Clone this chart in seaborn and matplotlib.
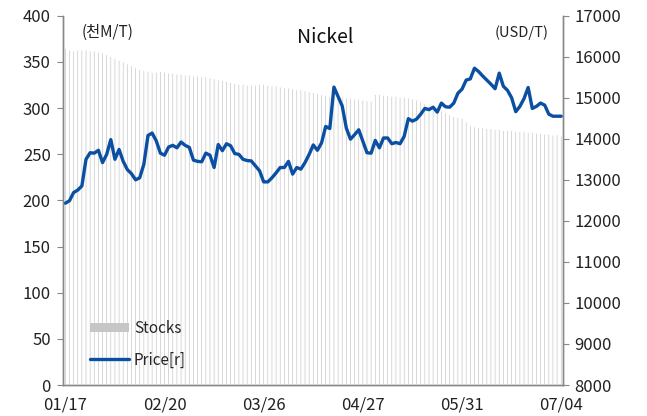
import matplotlib
matplotlib.use('Agg')
import matplotlib.pyplot as plt
from matplotlib.patches import Patch
from matplotlib.lines import Line2D
import seaborn as sns
import pandas as pd

# LME nickel, business days 2018-01-17 .. 2018-07-04
dates = pd.bdate_range('2018-01-17', '2018-07-04')
tick_labels = ['01/17', '02/20', '03/26', '04/27', '05/31', '07/04']

stocks = [365, 363, 362, 363, 363, 363, 362, 362, 361, 360,
          358, 356, 354, 352, 350, 348, 346, 344, 342, 341,
          340, 339, 339, 340, 339, 338, 338, 337, 337, 336,
          336, 335, 335, 334, 334, 333, 332, 331, 330, 329,
          328, 327, 326, 326, 325, 325, 325, 326, 326, 325,
          324, 324, 323, 322, 322, 321, 320, 320, 319, 318,
          317, 316, 315, 314, 313, 313, 312, 312, 311, 311,
          310, 310, 309, 308, 308, 315, 315, 314, 314, 313,
          313, 312, 312, 311, 310, 309, 307, 305, 303, 301,
          299, 297, 295, 293, 291, 290, 289, 285, 281, 280,
          279, 279, 278, 278, 277, 277, 276, 276, 276, 275,
          275, 275, 274, 274, 273, 273, 272, 272, 271, 271, 270]

price = [12430, 12490, 12690, 12750, 12850, 13500, 13660, 13650, 13720, 13420,
         13620, 13980, 13500, 13740, 13450, 13250, 13150, 13000, 13050, 13380,
         14080, 14140, 13950, 13650, 13600, 13800, 13840, 13780, 13920, 13840,
         13790, 13480, 13450, 13440, 13650, 13600, 13300, 13860, 13710, 13880,
         13830, 13640, 13620, 13500, 13470, 13460, 13340, 13220, 12950, 12950,
         13050, 13170, 13300, 13300, 13450, 13140, 13300, 13260, 13420, 13620,
         13850, 13720, 13900, 14300, 14250, 15260, 15030, 14800, 14260, 13990,
         14100, 14220, 13940, 13660, 13650, 13960, 13780, 14020, 14020, 13880,
         13910, 13880, 14060, 14490, 14430, 14480, 14600, 14740, 14710, 14770,
         14650, 14870, 14780, 14770, 14870, 15110, 15210, 15430, 15460, 15720,
         15640, 15530, 15430, 15330, 15220, 15600, 15280, 15180, 15000, 14660,
         14790, 14980, 15250, 14740, 14790, 14870, 14820, 14600, 14550, 14550, 14550]

df = pd.DataFrame({'date': dates, 'stocks': stocks, 'price': price})
df['i'] = range(len(df))

sns.set_style('white')
plt.rcParams['font.family'] = ['Noto Sans CJK KR', 'DejaVu Sans']

BAR = '#c6c6c6'
LINE = '#0b4fa3'

fig = plt.figure(figsize=(6.47, 4.16), dpi=100)
ax = fig.add_axes([0.0978, 0.0745, 0.7728, 0.8878])

sns.barplot(data=df, x='i', y='stocks', color=BAR, width=0.5,
            saturation=1, ax=ax)
# avoid pixel snapping moire on the thin bars
for p in ax.patches:
    p.set_snap(False)
ax.set_xlim(-0.5, len(df) - 0.5)
ax.set_ylim(0, 400)
ax.set_yticks(range(0, 401, 50))
ax.set_xlabel('')
ax.set_ylabel('')

ax2 = ax.twinx()
sns.lineplot(data=df, x='i', y='price', color=LINE, linewidth=2.4, ax=ax2)
ax2.set_ylim(8000, 17000)
ax2.set_yticks(range(8000, 17001, 1000))
ax2.set_xlabel('')
ax2.set_ylabel('')
ax2.set_xlim(-0.5, len(df) - 0.5)

# labels every 24 days, tick marks every 45
ax.set_xticks(range(0, len(df), 24))
ax.set_xticklabels(tick_labels)
ax.set_xticks([0, 45, 90], minor=True)
ax.tick_params(axis='x', which='major', length=0, pad=8, labelsize=12, colors='#222222')
ax.tick_params(axis='x', which='minor', length=4, color='#888888', direction='out')
ax.tick_params(axis='y', length=4, color='#888888', labelsize=12, labelcolor='#222222', pad=5)
ax2.tick_params(axis='y', length=4, color='#888888', labelsize=12, labelcolor='#222222', pad=4)

for a in (ax, ax2):
    a.spines['top'].set_visible(False)
    for s in ('left', 'right', 'bottom'):
        a.spines[s].set_color('#888888')
        a.spines[s].set_linewidth(1.0)

ax2.text(0.037, 0.954, '(천M/T)', transform=ax2.transAxes, fontsize=11,
         ha='left', va='center', color='#222222')
ax2.text(0.971, 0.954, '(USD/T)', transform=ax2.transAxes, fontsize=10.5,
         ha='right', va='center', color='#222222')
ax2.text(0.523, 0.94, 'Nickel', transform=ax2.transAxes, fontsize=14,
         ha='center', va='center', color='#111111')

handles = [Patch(facecolor=BAR, edgecolor='none'),
           Line2D([], [], color=LINE, linewidth=2.4)]
ax2.legend(handles, ['Stocks', 'Price[r]'], loc='lower left',
           bbox_to_anchor=(0.025, 0.008), frameon=False, fontsize=11,
           handlelength=2.6, handletextpad=0.3, labelspacing=0.95,
           handleheight=0.6)

fig.savefig('out.png', dpi=100)
plt.close(fig)
